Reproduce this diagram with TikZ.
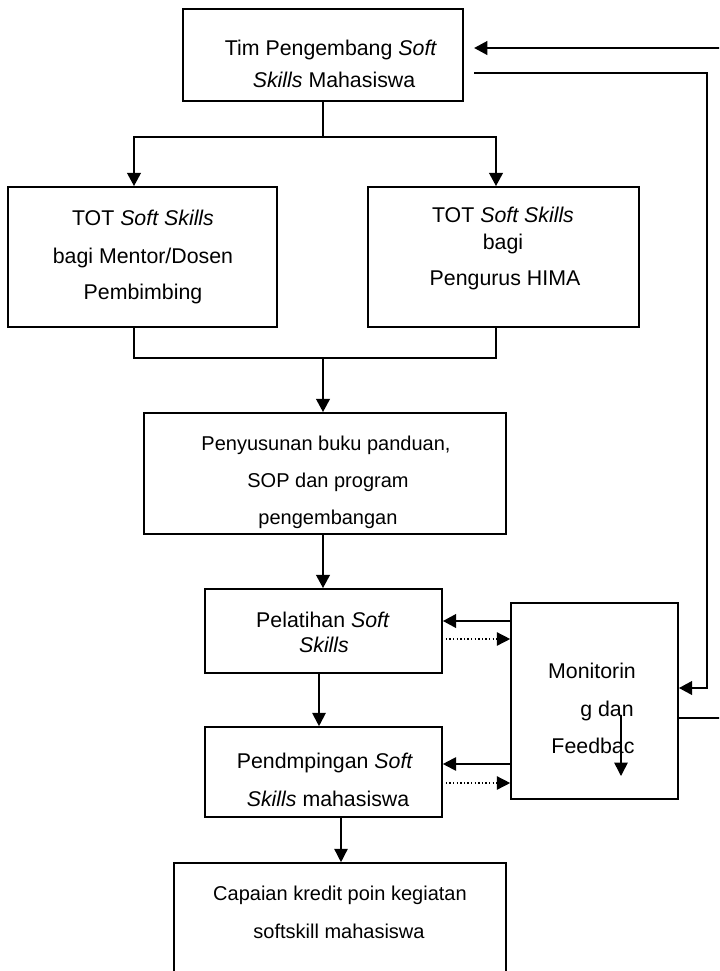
\documentclass[tikz,border=0pt]{standalone}
\usepackage{fontspec}
\setmainfont{Liberation Sans}
\usetikzlibrary{arrows.meta,fit,calc}
\tikzset{
  box/.style={draw, line width=1.2pt, inner sep=0pt},
  bigtxt/.style={font=\fontsize{16}{19}\selectfont, anchor=base, inner sep=0pt},
  smtxt/.style={font=\fontsize{15}{18}\selectfont, anchor=base, inner sep=0pt},
  arr/.style={-{Triangle[width=10pt,length=10pt]}},
  thickln/.style={line width=2.2pt},
  medln/.style={line width=1.5pt},
  thinln/.style={line width=1.1pt},
  dotln/.style={line width=1.1pt, dash pattern=on 1.1pt off 1.6pt},
}
\begin{document}
\begin{tikzpicture}[x=0.75pt,y=-0.75pt]
\useasboundingbox (0,0) rectangle (719,971);
\clip (0,0) rectangle (719,971);

% boxes
\node[box, fit={(183,9) (463,101)}] (top) {};
\node[box, fit={(8,187) (277,327)}] (ltot) {};
\node[box, fit={(368,187) (639,327)}] (rtot) {};
\node[box, fit={(144,413) (506,534)}] (pen) {};
\node[box, fit={(205,589) (442,673)}] (pel) {};
\node[box, fit={(205,727) (442,817)}] (pdm) {};
\node[box, fit={(174,863) (506,1000)}] (cap) {};
\node[box, fit={(511,603) (678,799)}] (mon) {};

% texts
\node[bigtxt] (t1) at (331,55.5) {Tim Pengembang \textit{Soft}};
\node[bigtxt] (t2) at (334,87.5) {\textit{Skills} Mahasiswa};
\node[bigtxt] (l1) at (143,225.5) {TOT \textit{Soft Skills}};
\node[bigtxt] (l2) at (143,263.5) {bagi Mentor/Dosen};
\node[bigtxt] (l3) at (143,299.5) {Pembimbing};
\node[bigtxt] (r1) at (503,222.5) {TOT \textit{Soft Skills}};
\node[bigtxt] (r2) at (503,249.5) {bagi};
\node[bigtxt] (r3) at (505,285.5) {Pengurus HIMA};
\node[smtxt] (p1) at (326,450) {Penyusunan buku panduan,};
\node[smtxt] (p2) at (328,487) {SOP dan program};
\node[smtxt] (p3) at (328,524) {pengembangan};
\node[bigtxt] (e1) at (323,627.5) {Pelatihan \textit{Soft}};
\node[bigtxt] (e2) at (324,652.5) {\textit{Skills}};
\node[bigtxt] (d1) at (325,768.5) {Pendmpingan \textit{Soft}};
\node[bigtxt] (d2) at (328,806.5) {\textit{Skills} mahasiswa};
\node[smtxt] (c1) at (340,900) {Capaian kredit poin kegiatan};
\node[smtxt] (c2) at (339,938) {softskill mahasiswa};
\node[bigtxt] (m1) at (592,678.5) {Monitorin};
\node[bigtxt] (m2) at (607,716.5) {g dan};
\node[bigtxt] (m3) at (593,753.5) {Feedbac};

% helper coordinates
\coordinate (hj) at (0,137);
\coordinate (hb) at (0,358);
\coordinate (xl) at (134,0);
\coordinate (xr) at (496,0);
\coordinate (xc) at (323,0);
\coordinate (xp) at (319,0);
\coordinate (xq) at (341,0);
\coordinate (y1) at (0,621);
\coordinate (y2) at (0,639);
\coordinate (y3) at (0,764);
\coordinate (y4) at (0,783);
\coordinate (ym) at (0,688);
\coordinate (yo) at (0,718);
\coordinate (xe) at (707,0);
\coordinate (xo) at (735,0);
\coordinate (ta) at (474,73);
\coordinate (tb) at (474,48);
\coordinate (fb1) at (621,715);
\coordinate (fb2) at (621,776);

% top branching
\draw[thinln] (top.south) -- (top.south |- hj);
\draw[thickln,arr] (top.south |- hj) -| (xl |- ltot.north);
\draw[thickln,arr] (top.south |- hj) -| (xr |- rtot.north);

% merge
\draw[thinln] (xl |- ltot.south) |- (xr |- hb) -- (xr |- rtot.south);
\draw[thickln,arr] (xc |- hb) -- (xc |- pen.north);
\draw[thickln,arr] (xc |- pen.south) -- (xc |- pel.north);
\draw[medln,arr] (xp |- pel.south) -- (xp |- pdm.north);
\draw[thinln,arr] (xq |- pdm.south) -- (xq |- cap.north);

% monitoring links
\draw[thickln,arr] (mon.west |- y1) -- (pel.east |- y1);
\draw[dotln,arr] ($(pel.east |- y2)+(3,0)$) -- (mon.west |- y2);
\draw[medln,arr] (mon.west |- y3) -- (pdm.east |- y3);
\draw[dotln,arr] ($(pdm.east |- y4)+(3,0)$) -- (mon.west |- y4);
\draw[thinln,arr] (fb1) -- (fb2);

% feedback loop
\draw[thickln,arr] (ta) -| (xe |- ym) -- (mon.east |- ym);
\draw[medln] (mon.east |- yo) -- (xo |- yo);
\draw[thickln,arr] (xo |- yo) |- (tb);
\end{tikzpicture}
\end{document}
